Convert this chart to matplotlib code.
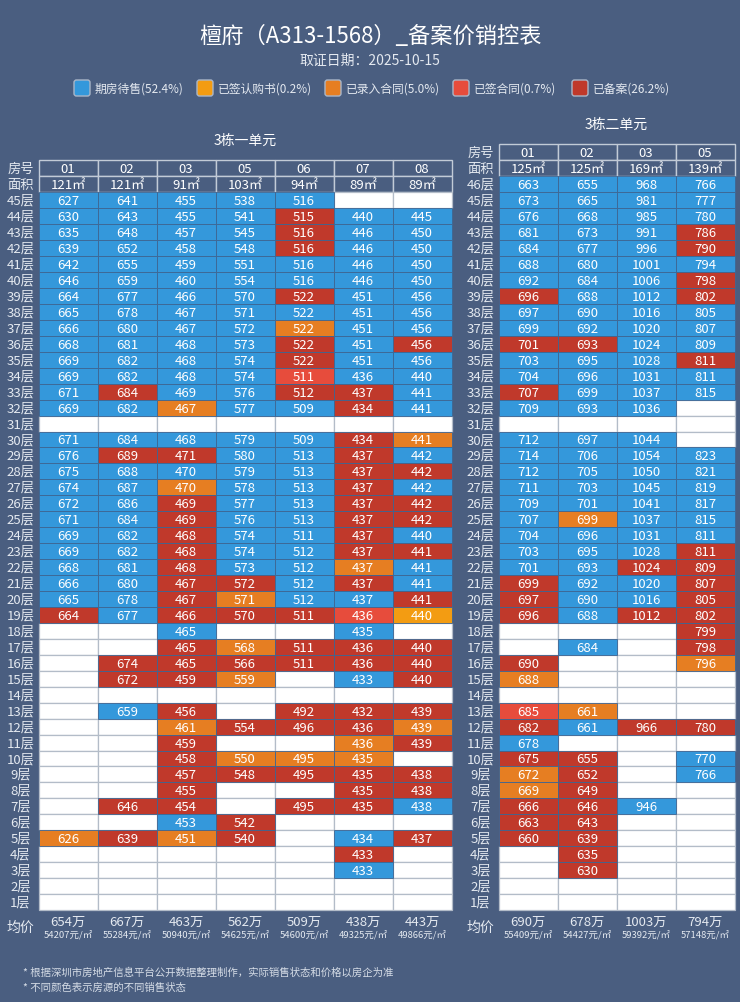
import matplotlib
matplotlib.use("Agg")
import matplotlib.pyplot as plt
from matplotlib.patches import Rectangle, FancyBboxPatch

plt.rcParams['font.family'] = ['Noto Sans CJK SC', 'DejaVu Sans']

title = "檀府（A313-1568）_备案价销控表"
date_text = "取证日期：2025-10-15"
notes = ["* 根据深圳市房地产信息平台公开数据整理制作，实际销售状态和价格以房企为准",
         "* 不同颜色表示房源的不同销售状态"]

status_codes = ["B", "Y", "O", "L", "R"]
status_names = ["期房待售", "已签认购书", "已录入合同", "已签合同", "已备案"]
status_share = [52.4, 0.2, 5.0, 0.7, 26.2]
status_colors = ["#3498db", "#f39c12", "#e67e22", "#e74c3c", "#c0392b"]

# 3栋一单元, rows from 45层 down to 1层, "." = no unit shown
u1_name = "3栋一单元"
u1_rooms = ["01", "02", "03", "05", "06", "07", "08"]
u1_areas = [121, 121, 91, 103, 94, 89, 89]
u1_top = 45
N = None
u1_prices = [
    [627, 641, 455, 538, 516, N, N],
    [630, 643, 455, 541, 515, 440, 445],
    [635, 648, 457, 545, 516, 446, 450],
    [639, 652, 458, 548, 516, 446, 450],
    [642, 655, 459, 551, 516, 446, 450],
    [646, 659, 460, 554, 516, 446, 450],
    [664, 677, 466, 570, 522, 451, 456],
    [665, 678, 467, 571, 522, 451, 456],
    [666, 680, 467, 572, 522, 451, 456],
    [668, 681, 468, 573, 522, 451, 456],
    [669, 682, 468, 574, 522, 451, 456],
    [669, 682, 468, 574, 511, 436, 440],
    [671, 684, 469, 576, 512, 437, 441],
    [669, 682, 467, 577, 509, 434, 441],
    [N, N, N, N, N, N, N],
    [671, 684, 468, 579, 509, 434, 441],
    [676, 689, 471, 580, 513, 437, 442],
    [675, 688, 470, 579, 513, 437, 442],
    [674, 687, 470, 578, 513, 437, 442],
    [672, 686, 469, 577, 513, 437, 442],
    [671, 684, 469, 576, 513, 437, 442],
    [669, 682, 468, 574, 511, 437, 440],
    [669, 682, 468, 574, 512, 437, 441],
    [668, 681, 468, 573, 512, 437, 441],
    [666, 680, 467, 572, 512, 437, 441],
    [665, 678, 467, 571, 512, 437, 441],
    [664, 677, 466, 570, 511, 436, 440],
    [N, N, 465, N, N, 435, N],
    [N, N, 465, 568, 511, 436, 440],
    [N, 674, 465, 566, 511, 436, 440],
    [N, 672, 459, 559, N, 433, 440],
    [N, N, N, N, N, N, N],
    [N, 659, 456, N, 492, 432, 439],
    [N, N, 461, 554, 496, 436, 439],
    [N, N, 459, N, N, 436, 439],
    [N, N, 458, 550, 495, 435, N],
    [N, N, 457, 548, 495, 435, 438],
    [N, N, 455, N, N, 435, 438],
    [N, 646, 454, N, 495, 435, 438],
    [N, N, 453, 542, N, N, N],
    [626, 639, 451, 540, N, 434, 437],
    [N, N, N, N, N, 433, N],
    [N, N, N, N, N, 433, N],
    [N, N, N, N, N, N, N],
    [N, N, N, N, N, N, N],
]
u1_status = [
    "BBBBB..", "BBBBRBB", "BBBBRBB", "BBBBRBB", "BBBBBBB", "BBBBBBB",
    "BBBBRBB", "BBBBBBB", "BBBBOBB", "BBBBRBR", "BBBBRBB", "BBBBLBB",
    "BRBBRRB", "BBOBBRB", ".......", "BBBBBRO", "BRRBBRB", "BBBBBRR",
    "BBOBBRB", "BBRBBRR", "BBRBBRR", "BBRBBRB", "BBRBBRR", "BBRBBOB",
    "BBRRBRB", "BBROBBR", "RBRRRLY", "..B..B.", "..RORRR", ".RRRRRR",
    ".RRO.BR", ".......", ".BR.RRR", "..ORRRO", "..R..OR", "..ROOO.",
    "..RRRRR", "..R..RR", ".RR.RRB", "..BR...", "OROR.BR", ".....R.",
    ".....B.", ".......", ".......",
]
u1_avg_total = [654, 667, 463, 562, 509, 438, 443]
u1_avg_unit = [54207, 55284, 50940, 54625, 54600, 49325, 49866]

# 3栋二单元, rows from 46层 down to 1层
u2_name = "3栋二单元"
u2_rooms = ["01", "02", "03", "05"]
u2_areas = [125, 125, 169, 139]
u2_top = 46
u2_prices = [
    [663, 655, 968, 766],
    [673, 665, 981, 777],
    [676, 668, 985, 780],
    [681, 673, 991, 786],
    [684, 677, 996, 790],
    [688, 680, 1001, 794],
    [692, 684, 1006, 798],
    [696, 688, 1012, 802],
    [697, 690, 1016, 805],
    [699, 692, 1020, 807],
    [701, 693, 1024, 809],
    [703, 695, 1028, 811],
    [704, 696, 1031, 811],
    [707, 699, 1037, 815],
    [709, 693, 1036, N],
    [N, N, N, N],
    [712, 697, 1044, N],
    [714, 706, 1054, 823],
    [712, 705, 1050, 821],
    [711, 703, 1045, 819],
    [709, 701, 1041, 817],
    [707, 699, 1037, 815],
    [704, 696, 1031, 811],
    [703, 695, 1028, 811],
    [701, 693, 1024, 809],
    [699, 692, 1020, 807],
    [697, 690, 1016, 805],
    [696, 688, 1012, 802],
    [N, N, N, 799],
    [N, 684, N, 798],
    [690, N, N, 796],
    [688, N, N, N],
    [N, N, N, N],
    [685, 661, N, N],
    [682, 661, 966, 780],
    [678, N, N, N],
    [675, 655, N, 770],
    [672, 652, N, 766],
    [669, 649, N, N],
    [666, 646, 946, N],
    [663, 643, N, N],
    [660, 639, N, N],
    [N, 635, N, N],
    [N, 630, N, N],
    [N, N, N, N],
    [N, N, N, N],
]
u2_status = [
    "BBBB", "BBBB", "BBBB", "BBBR", "BBBR", "BBBB", "BBBR", "RBBR",
    "BBBB", "BBBB", "RRBB", "BBBR", "BBBB", "RBBB", "BBB.", "....",
    "BBB.", "BBBB", "BBBB", "BBBB", "BBBB", "BOBB", "BBBB", "BBBR",
    "BBRR", "RBBR", "RBBR", "RBRR", "...R", ".B.R", "R..O", "O...",
    "....", "LO..", "RBRR", "B...", "RR.B", "OR.B", "OR..", "RRB.",
    "RR..", "RR..", ".R..", ".R..", "....", "....",
]
u2_avg_total = [690, 678, 1003, 794]
u2_avg_unit = [55409, 54427, 59392, 57148]

bg = "#4a5e80"
light = "#e4e9f0"
color_of = dict(zip(status_codes, status_colors))

row_h = 15.95
base_y = 911.0
col_w = 59.0


def row_top(floor):
    return base_y - floor * row_h


def draw_unit(ax, name, rooms, areas, top, prices, status, avg_total, avg_unit, x0):
    ncol = len(rooms)
    label_x = x0 - 18
    # header rows
    for label, vals, fl in [("房号", rooms, top + 2),
                            ("面积", [f"{a}㎡" for a in areas], top + 1)]:
        y = row_top(fl)
        ax.text(label_x, y + row_h / 2, label, ha="center", va="center",
                color=light, fontsize=9.5)
        for j, v in enumerate(vals):
            ax.add_patch(Rectangle((x0 + j * col_w, y), col_w, row_h,
                                   facecolor=bg, edgecolor="#c2cbd7", lw=1.0))
            ax.text(x0 + (j + 0.5) * col_w, y + row_h / 2, v, ha="center",
                    va="center", color="white", fontsize=9.5)
    ax.text(x0 + ncol * col_w / 2, row_top(top + 2) - 21, name, ha="center",
            va="center", color="white", fontsize=10)
    # floors
    for i, (row, st) in enumerate(zip(prices, status)):
        fl = top - i
        y = row_top(fl)
        ax.text(label_x, y + row_h / 2, f"{fl}层", ha="center", va="center",
                color=light, fontsize=9.5)
        for j in range(ncol):
            if st[j] == ".":
                ax.add_patch(Rectangle((x0 + j * col_w, y), col_w, row_h,
                                       facecolor="white", edgecolor="#b3bcc8",
                                       lw=0.9, zorder=1))
        for j in range(ncol):
            s = st[j]
            if s != ".":
                ax.add_patch(Rectangle((x0 + j * col_w, y), col_w, row_h,
                                       facecolor=color_of[s], edgecolor="#3f6692",
                                       lw=0.6, zorder=2))
                ax.text(x0 + (j + 0.5) * col_w, y + row_h / 2 + 0.5, str(row[j]),
                        ha="center", va="center", color="white", fontsize=9.5,
                        zorder=3)
    # averages
    ax.text(label_x, base_y + 17, "均价", ha="center", va="center",
            color=light, fontsize=10)
    for j in range(ncol):
        cx = x0 + (j + 0.5) * col_w
        ax.text(cx, base_y + 11, f"{avg_total[j]}万", ha="center", va="center",
                color=light, fontsize=9.5)
        ax.text(cx, base_y + 23.5, f"{avg_unit[j]}元/㎡", ha="center",
                va="center", color=light, fontsize=6.8)


fig = plt.figure(figsize=(7.4, 10.03), dpi=100, facecolor=bg)
ax = fig.add_axes([0, 0, 1, 1])
ax.set_facecolor(bg)
ax.set_xlim(0, 740)
ax.set_ylim(1003, 0)
ax.axis("off")

ax.text(370, 36, title, ha="center", va="center", color="white", fontsize=16)
ax.text(370, 61, date_text, ha="center", va="center", color=light, fontsize=10)

legend_x = [74, 197, 325, 453, 572]
for lx, c, nm, sh in zip(legend_x, status_colors, status_names, status_share):
    ax.add_patch(FancyBboxPatch((lx, 81), 16, 16,
                                boxstyle="round,pad=0,rounding_size=2.5",
                                facecolor=c, edgecolor="#aab6c8", lw=1.0))
    ax.text(lx + 21, 89, f"{nm}({sh:.1f}%)", ha="left", va="center",
            color=light, fontsize=8.5)

draw_unit(ax, u1_name, u1_rooms, u1_areas, u1_top, u1_prices, u1_status,
          u1_avg_total, u1_avg_unit, 38.5)
draw_unit(ax, u2_name, u2_rooms, u2_areas, u2_top, u2_prices, u2_status,
          u2_avg_total, u2_avg_unit, 498.5)

for k, note in enumerate(notes):
    ax.text(23, 973 + k * 15, note, ha="left", va="center", color="#d5dce6",
            fontsize=7.5)

fig.savefig("out.png", dpi=100, facecolor=bg)
